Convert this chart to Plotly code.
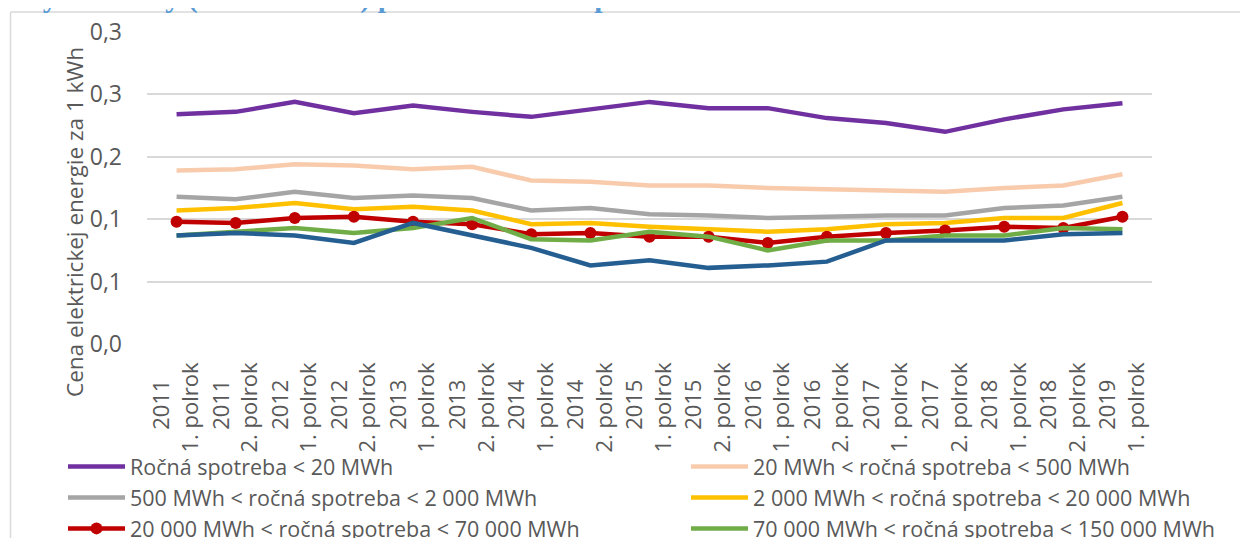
import plotly.graph_objects as go

# ---------------- data ----------------
years = ["2011", "2011", "2012", "2012", "2013", "2013", "2014", "2014", "2015",
         "2015", "2016", "2016", "2017", "2017", "2018", "2018", "2019"]
halves = ["1. polrok", "2. polrok"] * 8 + ["1. polrok"]
categories = [f"{y} {h}" for y, h in zip(years, halves)]

s_lt20 = [0.184, 0.186, 0.194, 0.185, 0.191, 0.186, 0.182, 0.188, 0.194,
          0.189, 0.189, 0.181, 0.177, 0.170, 0.180, 0.188, 0.193]
s_20_500 = [0.139, 0.140, 0.144, 0.143, 0.140, 0.142, 0.131, 0.130, 0.127,
            0.127, 0.125, 0.124, 0.123, 0.122, 0.125, 0.127, 0.136]
s_500_2000 = [0.118, 0.116, 0.122, 0.117, 0.119, 0.117, 0.107, 0.109, 0.104,
              0.103, 0.101, 0.102, 0.103, 0.103, 0.109, 0.111, 0.118]
s_2000_20000 = [0.107, 0.109, 0.113, 0.108, 0.110, 0.107, 0.096, 0.097, 0.094,
                0.092, 0.090, 0.092, 0.096, 0.097, 0.101, 0.101, 0.113]
s_20000_70000 = [0.098, 0.097, 0.101, 0.102, 0.098, 0.096, 0.088, 0.089, 0.086,
                 0.086, 0.081, 0.086, 0.089, 0.091, 0.094, 0.093, 0.102]
s_70000_150000 = [0.087, 0.090, 0.093, 0.089, 0.093, 0.101, 0.084, 0.083, 0.090,
                  0.086, 0.075, 0.083, 0.083, 0.087, 0.087, 0.093, 0.092]
s_gt150000 = [0.087, 0.089, 0.087, 0.081, 0.097, 0.087, 0.077, 0.063, 0.067,
              0.061, 0.063, 0.066, 0.083, 0.083, 0.083, 0.088, 0.089]

series_names = [
    "Ročná spotreba < 20 MWh",
    "20 MWh < ročná spotreba < 500 MWh",
    "500 MWh < ročná spotreba < 2 000 MWh",
    "2 000 MWh < ročná spotreba < 20 000 MWh",
    "20 000 MWh < ročná spotreba < 70 000 MWh",
    "70 000 MWh < ročná spotreba < 150 000 MWh",
    "Ročná spotreba > 150 000 MWh",
]
series_values = [s_lt20, s_20_500, s_500_2000, s_2000_20000,
                 s_20000_70000, s_70000_150000, s_gt150000]
series_colors = ["#7030A0", "#F8CBAD", "#A5A5A5", "#FFC000",
                 "#C00000", "#70AD47", "#255E91"]

y_tickvals = [0, 0.05, 0.10, 0.15, 0.20, 0.25]
y_ticktext = ["0,0", "0,1", "0,1", "0,2", "0,3", "0,3"]

title_text = "Ceny elektriny (vrátane daní) podľa sadzieb - spotrebiteľa mimo domácnosti"
y_title = "Cena elektrickej energie za 1 kWh"

# ---------------- layout geometry ----------------
# the page body has an 8 px margin, so the figure is drawn 8 px smaller
OFF = 8
W, H = 1248 - OFF, 538 - OFF
# plot area in page pixels: x 147..1152, y 32..344
L, R, T, B = 147 - OFF, 1248 - 1152, 32 - OFF, 538 - 344
PW, PH = W - L - R, H - T - B


def px_x(x):  # page pixel -> paper x
    return (x - OFF - L) / PW


def px_y(y):  # page pixel -> paper y
    return (H - B - (y - OFF)) / PH


FONT = "Open Sans"
GREY = "#595959"
FS = 22

tick_text = []
for y, h in zip(years, halves):
    tick_text.append(y + "\u00a0" * 3 + "<br>" + h)

fig = go.Figure()
for i, (name, vals, col) in enumerate(zip(series_names, series_values, series_colors)):
    is_red = col == "#C00000"
    fig.add_trace(go.Scatter(
        x=categories, y=vals, name=name,
        mode="lines+markers" if is_red else "lines",
        line=dict(color=col, width=4.5),
        marker=dict(size=12, color=col),
        legend="legend" if i % 2 == 0 else "legend2",
    ))

legend_common = dict(
    orientation="v", xref="container", yref="container",
    xanchor="left", yanchor="top", itemwidth=57,
    font=dict(family=FONT, size=21.5, color=GREY),
    tracegroupgap=0, bgcolor="rgba(0,0,0,0)", traceorder="normal",
)
LEG_TOP = 446 - OFF

fig.update_layout(
    width=W, height=H,
    margin=dict(l=L, r=R, t=T, b=B, autoexpand=False),
    paper_bgcolor="white", plot_bgcolor="white",
    font=dict(family=FONT, color=GREY, size=FS),
    showlegend=True,
    legend=dict(x=55 / W, y=1 - LEG_TOP / H, **legend_common),
    legend2=dict(x=678 / W, y=1 - LEG_TOP / H, **legend_common),
    xaxis=dict(
        type="category", range=[-0.5, len(categories) - 0.5],
        showgrid=False, showline=False, zeroline=False,
        tickangle=-90, ticks="", tickvals=categories, ticktext=tick_text,
        tickfont=dict(family=FONT, size=FS, color=GREY),
        ticklabelstandoff=13,
    ),
    yaxis=dict(
        range=[0, 0.25], tickvals=y_tickvals, ticktext=y_ticktext,
        showgrid=True, gridcolor="#D9D9D9", gridwidth=2,
        zeroline=False, showline=False, ticks="",
        tickfont=dict(family=FONT, size=23, color=GREY),
        ticklabelstandoff=24,
    ),
    annotations=[
        dict(text=y_title, textangle=-90, xref="paper", yref="paper",
             x=px_x(74), y=px_y(222), xanchor="center", yanchor="middle",
             showarrow=False, font=dict(family=FONT, size=22.5, color=GREY)),
        dict(text="<b>" + title_text + "</b>", xref="paper", yref="paper",
             x=px_x(-11), y=px_y(16), xanchor="left", yanchor="bottom",
             showarrow=False,
             font=dict(family="Liberation Serif", size=30, color="#5B9BD5")),
    ],
    shapes=[
        dict(type="line", xref="paper", yref="paper",
             x0=px_x(10.5), x1=px_x(10.5), y0=px_y(12), y1=px_y(560),
             line=dict(color="#D9D9D9", width=1.5)),
        dict(type="line", xref="paper", yref="paper",
             x0=px_x(10.5), x1=px_x(1260), y0=px_y(12), y1=px_y(12),
             line=dict(color="#D9D9D9", width=1.5)),
    ],
)

fig.write_html("out.html")
